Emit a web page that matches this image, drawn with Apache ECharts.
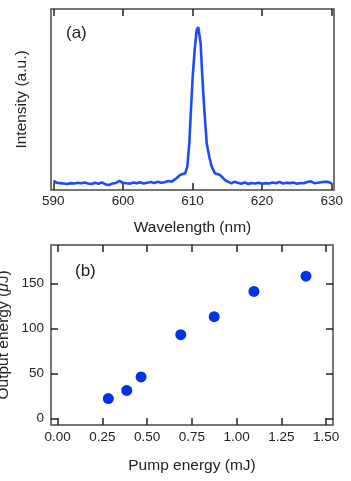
<!DOCTYPE html>
<html>
<head>
<meta charset="utf-8">
<script src="https://cdn.jsdelivr.net/npm/echarts@6/dist/echarts.min.js"></script>
<style>
  html, body { margin: 0; padding: 0; background: #fff; }
  #chart { width: 351px; height: 481px; }
</style>
</head>
<body>
<div id="chart"></div>
<script>
// (a) emission spectrum: [wavelength nm, intensity a.u.]
var spectrum = [
  [590.0, 0.050], [590.5, 0.040], [591.0, 0.038], [591.5, 0.036], [592.0, 0.033],
  [592.5, 0.038], [593.0, 0.036], [593.5, 0.040], [594.0, 0.037], [594.5, 0.041],
  [595.0, 0.036], [595.5, 0.033], [596.0, 0.040], [596.5, 0.035], [597.0, 0.042],
  [597.5, 0.031], [598.0, 0.028], [598.5, 0.036], [599.0, 0.039], [599.5, 0.050],
  [600.0, 0.040], [600.5, 0.037], [601.0, 0.035], [601.5, 0.041], [602.0, 0.038],
  [602.5, 0.043], [603.0, 0.036], [603.5, 0.040], [604.0, 0.044], [604.5, 0.039],
  [605.0, 0.045], [605.5, 0.040], [606.0, 0.043], [606.5, 0.050], [607.0, 0.046],
  [607.25, 0.046], [607.7, 0.065], [608.2, 0.083], [608.95, 0.092], [609.25, 0.129],
  [609.54, 0.258], [609.78, 0.442], [610.03, 0.626], [610.31, 0.773], [610.6, 0.884],
  [610.83, 0.899], [611.17, 0.810], [611.41, 0.626], [611.7, 0.442], [612.04, 0.258],
  [612.41, 0.184], [612.76, 0.129], [613.23, 0.092], [613.95, 0.083], [614.67, 0.055],
  [615.0, 0.048], [615.6, 0.037], [616.0, 0.045], [616.5, 0.040], [617.0, 0.035],
  [617.5, 0.042], [618.0, 0.033], [618.5, 0.039], [619.0, 0.036], [619.5, 0.040],
  [620.0, 0.034], [620.5, 0.038], [621.0, 0.036], [621.5, 0.042], [622.0, 0.037],
  [622.5, 0.045], [623.0, 0.036], [623.5, 0.040], [624.0, 0.038], [624.5, 0.041],
  [625.0, 0.035], [625.5, 0.039], [626.0, 0.037], [626.5, 0.044], [627.0, 0.048],
  [627.5, 0.038], [628.0, 0.040], [628.5, 0.043], [629.0, 0.046], [629.5, 0.045],
  [630.0, 0.036]
];

// (b) output vs pump energy
var pumpEnergy = [0.283, 0.386, 0.466, 0.688, 0.875, 1.097, 1.388];
var outputEnergy = [22, 31, 46, 93, 113, 141, 158];

var wavelengthTicks = [590, 600, 610, 620, 630];
var pumpTicks = [0, 0.25, 0.5, 0.75, 1.0, 1.25, 1.5];
var outputTicks = [0, 50, 100, 150];

var points = pumpEnergy.map(function (x, i) { return [x, outputEnergy[i]]; });

var font = 'Liberation Sans, Arial, Helvetica, sans-serif';
var ink = '#222';

function tickAxis(extra) {
  var base = {
    type: 'value',
    axisLine: { show: false, onZero: false },
    splitLine: { show: false },
    axisTick: { inside: true, length: 7, lineStyle: { color: ink, width: 1.5 } },
    axisLabel: { show: false },
    nameMoveOverlap: false
  };
  return Object.assign(base, extra);
}

var myChart = echarts.init(document.getElementById('chart'));

myChart.setOption({
  animation: false,
  grid: [
    { left: 51, top: 9, width: 283, height: 181, show: true, borderColor: '#4a4a4a', borderWidth: 1.5, outerBoundsMode: 'none', containLabel: false },
    { left: 51, top: 245, width: 282, height: 180, show: true, borderColor: '#4a4a4a', borderWidth: 1.5, outerBoundsMode: 'none', containLabel: false }
  ],
  xAxis: [
    tickAxis({
      gridIndex: 0, min: 589.67, max: 630.33, position: 'bottom',
      axisTick: { inside: true, length: 7, customValues: wavelengthTicks, lineStyle: { color: ink, width: 1.5 } },
      axisLabel: { show: true, customValues: wavelengthTicks, margin: 4, color: ink, fontSize: 13.5, fontFamily: font },
      name: 'Wavelength (nm)', nameLocation: 'middle', nameGap: 30,
      nameTextStyle: { color: ink, fontSize: 15.5, fontFamily: font }
    }),
    tickAxis({
      gridIndex: 0, min: 589.67, max: 630.33, position: 'top',
      axisTick: { inside: true, length: 7, customValues: wavelengthTicks, lineStyle: { color: ink, width: 1.5 } }
    }),
    tickAxis({
      gridIndex: 1, min: -0.0375, max: 1.539, position: 'bottom',
      axisTick: { inside: true, length: 7, customValues: pumpTicks, lineStyle: { color: ink, width: 1.5 } },
      axisLabel: {
        show: true, customValues: pumpTicks, margin: 5, color: ink, fontSize: 13.5, fontFamily: font,
        formatter: function (v) { return v.toFixed(2); }
      },
      name: 'Pump energy (mJ)', nameLocation: 'middle', nameGap: 33,
      nameTextStyle: { color: ink, fontSize: 15.5, fontFamily: font }
    }),
    tickAxis({
      gridIndex: 1, min: -0.0375, max: 1.539, position: 'top',
      axisTick: { inside: true, length: 7, customValues: pumpTicks, lineStyle: { color: ink, width: 1.5 } }
    })
  ],
  yAxis: [
    tickAxis({
      gridIndex: 0, min: 0, max: 1, position: 'left',
      axisTick: { show: false },
      name: 'Intensity (a.u.)', nameLocation: 'middle', nameGap: 21,
      nameTextStyle: { color: ink, fontSize: 15.5, fontFamily: font }
    }),
    tickAxis({
      gridIndex: 1, min: -7.4, max: 192.6, position: 'left',
      axisTick: { inside: true, length: 7, customValues: outputTicks, lineStyle: { color: ink, width: 1.5 } },
      axisLabel: { show: true, customValues: outputTicks, margin: 7, color: ink, fontSize: 13.5, fontFamily: font },
      name: '{n|Output energy (}{i|μ}{n|J)}', nameLocation: 'middle', nameGap: 39,
      nameTextStyle: {
        color: ink, fontSize: 15.5, fontFamily: font,
        rich: {
          n: { color: ink, fontSize: 15.5, fontFamily: font },
          i: { color: ink, fontSize: 15.5, fontFamily: font, fontStyle: 'italic' }
        }
      }
    }),
    tickAxis({
      gridIndex: 1, min: -7.4, max: 192.6, position: 'right',
      axisTick: { inside: true, length: 7, customValues: outputTicks, lineStyle: { color: ink, width: 1.5 } }
    })
  ],
  graphic: [
    { type: 'text', left: 66, top: 25, style: { text: '(a)', fontSize: 17, fontFamily: font, fill: ink } },
    { type: 'text', left: 75, top: 263, style: { text: '(b)', fontSize: 17, fontFamily: font, fill: ink } }
  ],
  series: [
    {
      name: 'Spectrum',
      type: 'line',
      xAxisIndex: 0,
      yAxisIndex: 0,
      data: spectrum,
      showSymbol: false,
      lineStyle: { color: '#1f4cf2', width: 2.6 },
      itemStyle: { color: '#1f4cf2' }
    },
    {
      name: 'Output',
      type: 'scatter',
      xAxisIndex: 2,
      yAxisIndex: 1,
      data: points,
      symbolSize: 11,
      itemStyle: { color: '#0033ee', opacity: 1 }
    }
  ]
});
</script>
</body>
</html>
